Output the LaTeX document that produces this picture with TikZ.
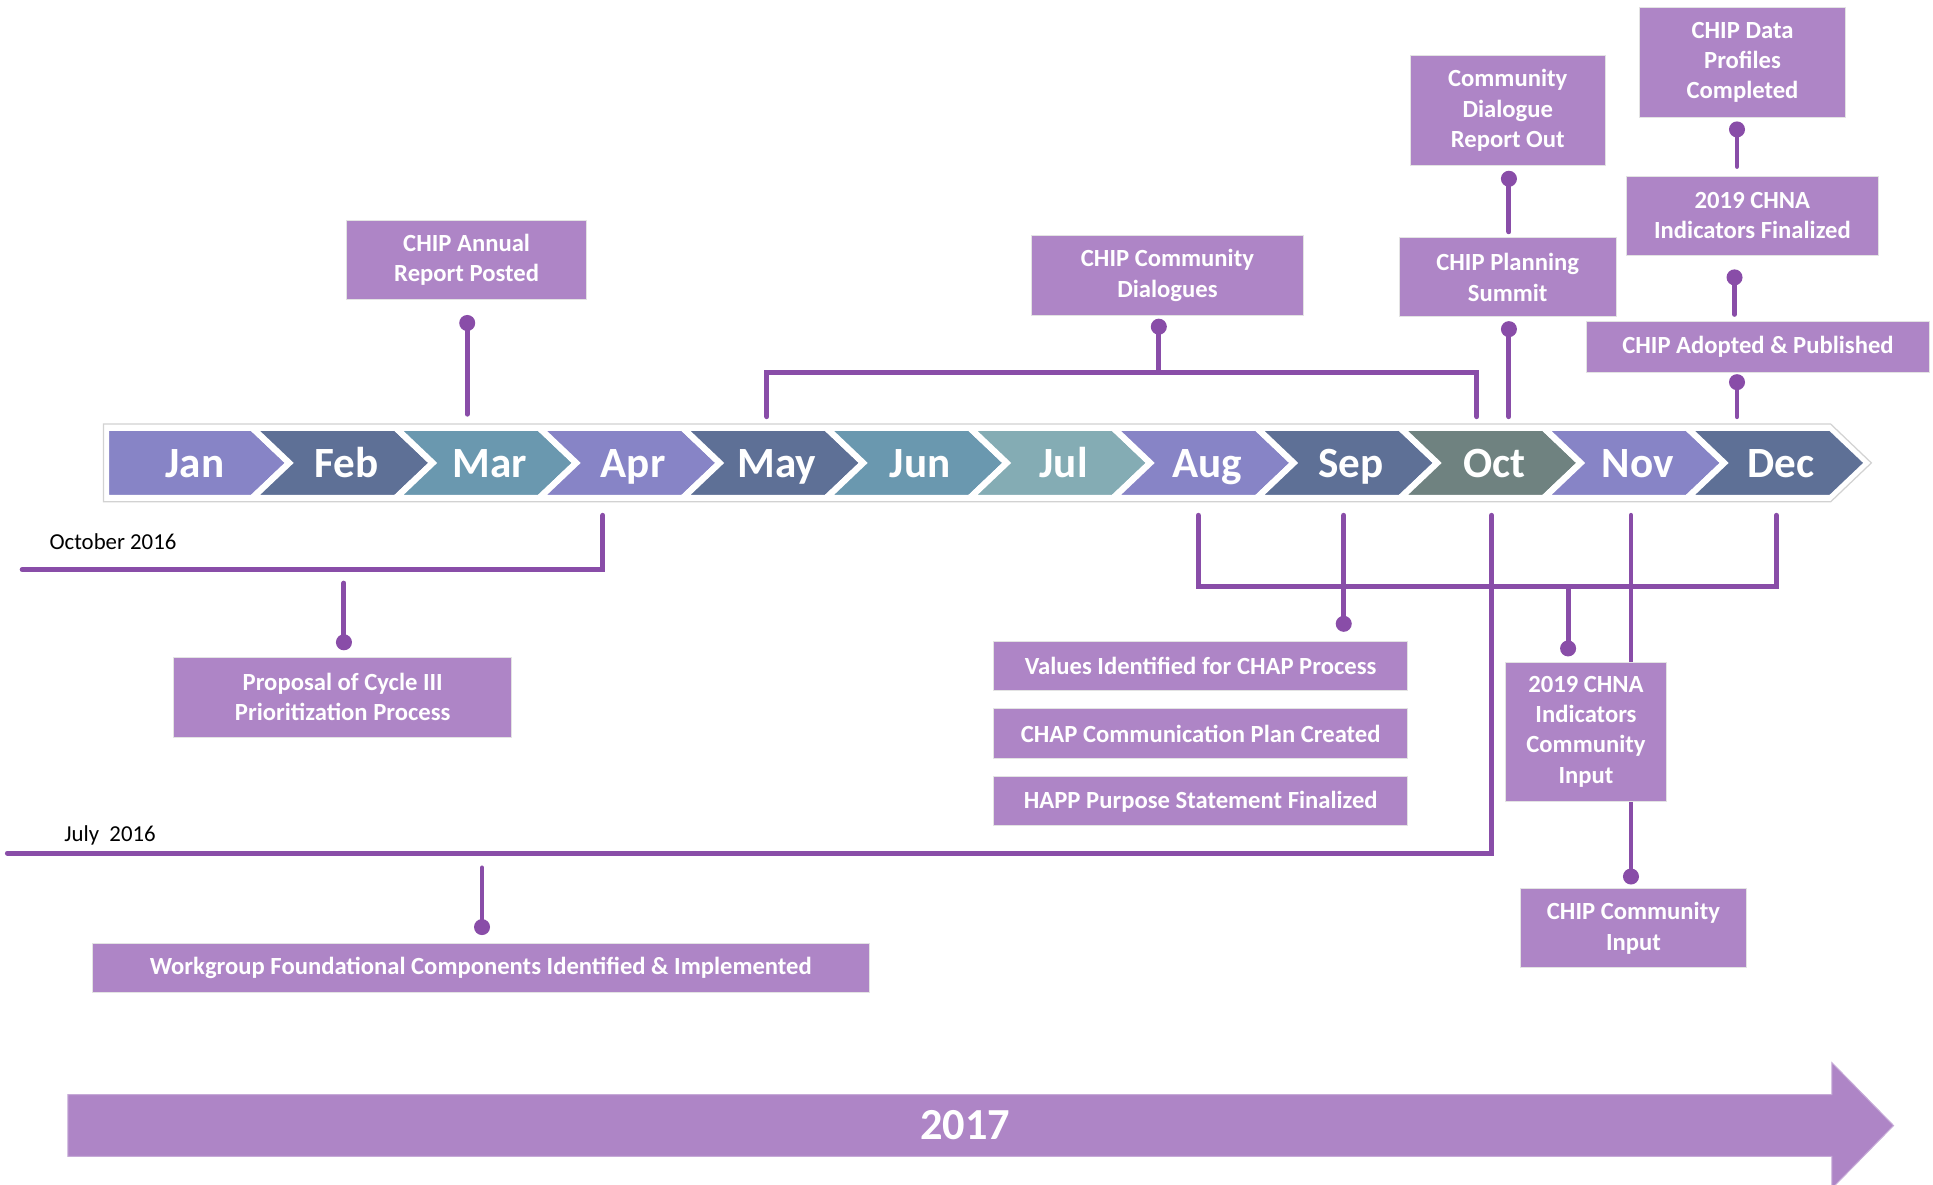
\documentclass[tikz,border=0pt]{standalone}
\usepackage{fontspec}
\setmainfont{Carlito}
\definecolor{boxc}{RGB}{174,133,198}
\definecolor{linec}{RGB}{137,77,168}
\definecolor{mA}{RGB}{135,132,198}
\definecolor{mB}{RGB}{94,112,150}
\definecolor{mC}{RGB}{106,152,175}
\definecolor{mD}{RGB}{132,172,180}
\definecolor{mE}{RGB}{111,130,128}
\begin{document}
\begin{tikzpicture}[x=1pt,y=-1pt,
  event/.style={fill=boxc, draw=white!78!gray, line width=0.8pt, text=white,
    font=\bfseries\fontsize{20}{24.5}\selectfont, align=center, inner sep=0pt},
  link/.style={draw=linec, line width=4pt, line cap=round},
  dot/.style={circle, fill=linec, inner sep=0pt, minimum size=13pt},
  month/.style={text=white, font=\bfseries\fontsize{35}{40}\selectfont, anchor=base, inner sep=0pt},
  datelbl/.style={font=\fontsize{18.5}{21}\selectfont, anchor=west, inner sep=0pt}]

\fill[white] (0,0) rectangle (1568,961);
\useasboundingbox (0,0) rectangle (1568,961);

% ---- month band ----
\fill[mA, draw=white, line width=5pt] (86,347) -- (204.6,347) -- (234.6,375.5) -- (204.6,404) -- (86,404) -- cycle;
\node[month] (mJan) at (158,387) {Jan};
\foreach \i/\m/\c in {1/Feb/mB, 2/Mar/mC, 3/Apr/mA, 4/May/mB, 5/Jun/mC, 6/Jul/mD,
                      7/Aug/mA, 8/Sep/mB, 9/Oct/mE, 10/Nov/mA, 11/Dec/mB}{
  \pgfmathsetmacro{\l}{204.6+(\i-1)*116.4}
  \pgfmathsetmacro{\r}{\l+116.4}
  \pgfmathsetmacro{\cx}{(\l+\r)/2+18}
  \fill[\c, draw=white, line width=5pt, line join=miter]
    (\l,347) -- (\r,347) -- (\r+30,375.5) -- (\r,404) -- (\l,404) -- (\l+30,375.5) -- cycle;
  \node[month] (m\m) at (\cx,387) {\m};
}
\draw[gray!35, line width=1pt] (84,344) -- (1485,344) -- (1518,375.5) -- (1485,407) -- (84,407) -- cycle;

% ---- end points on the band ----
\coordinate (bAnnual) at (379,336);
\coordinate (bMayL) at (622,338);
\coordinate (bMayR) at (1198,338);
\coordinate (bSummit) at (1224,338);
\coordinate (bAdopted) at (1409,338);
\coordinate (uApr) at (489,418);
\coordinate (uAug) at (972,418);
\coordinate (uSep) at (1090,418);
\coordinate (uOct) at (1210,418);
\coordinate (uNov) at (1323,418);
\coordinate (uDec) at (1441,418);
\coordinate (octEnd) at (18,462);
\coordinate (julEnd) at (6,692);

% ---- connectors ----
\node[dot] (dAnnual) at (379,262) {};
\draw[link] (dAnnual.center) -- (bAnnual);

\node[dot] (dDialog) at (940,265) {};
\coordinate (jDialog) at (940,302);
\draw[link] (dDialog.center) -- (jDialog);
\draw[link, line join=miter, line cap=round] (bMayL) -- (622,302) -- (1198,302) -- (bMayR);

\node[dot] (dReport) at (1224,145) {};
\coordinate (jReport) at (1224,188);
\draw[link] (dReport.center) -- (jReport);

\node[dot] (dSummit) at (1224,267) {};
\draw[link] (dSummit.center) -- (bSummit);

\node[dot] (dProfiles) at (1409,105) {};
\coordinate (jProfiles) at (1409,135);
\draw[link] (dProfiles.center) -- (jProfiles);

\node[dot] (dFinal) at (1407,225) {};
\coordinate (jFinal) at (1407,255);
\draw[link] (dFinal.center) -- (jFinal);

\node[dot] (dAdopted) at (1409,310) {};
\draw[link] (dAdopted.center) -- (bAdopted);

% below the band
\draw[link, line join=miter] (uApr) -- (489,462) -- (octEnd);
\node[datelbl] (oct16) at (40,439) {October 2016};
\node[dot] (dProposal) at (279,521) {};
\coordinate (jProposal) at (279,473);
\draw[link] (jProposal) -- (dProposal.center);

\draw[link, line join=miter] (uOct) -- (1210,692) -- (julEnd);
\node[datelbl] (jul16) at (52,678) {July\ \ 2016};
\node[dot] (dWork) at (391,752) {};
\coordinate (jWork) at (391,704);
\draw[link] (jWork) -- (dWork.center);

\draw[link, line join=miter] (uAug) -- (972,476) -- (1441,476) -- (uDec);
\node[dot] (dValues) at (1090,506) {};
\draw[link] (uSep) -- (dValues.center);
\node[dot] (dChna) at (1272,526) {};
\coordinate (jChna) at (1272,476);
\draw[link] (jChna) -- (dChna.center);
\node[dot] (dInput) at (1323,711) {};
\draw[link] (uNov) -- (dInput.center);

% ---- event boxes ----
\node[event, minimum width=195, minimum height=64] (annual) at (378.5,211) {CHIP Annual\\Report Posted};
\node[event, minimum width=220, minimum height=65] (dialog) at (947,223.5) {CHIP Community\\Dialogues};
\node[event, minimum width=158, minimum height=89] (report) at (1223,89.5) {Community\\Dialogue\\Report Out};
\node[event, minimum width=176, minimum height=64] (summit) at (1223,225) {CHIP Planning\\Summit};
\node[event, minimum width=167, minimum height=89] (profiles) at (1413.5,50.5) {CHIP Data\\Profiles\\Completed};
\node[event, minimum width=205, minimum height=64] (final) at (1421.5,175) {2019 CHNA\\Indicators Finalized};
\node[event, minimum width=278, minimum height=41] (adopted) at (1426,281.5) {CHIP Adopted \& Published};

\node[event, minimum width=274, minimum height=65] (proposal) at (278,565.5) {Proposal of Cycle III\\Prioritization Process};
\node[event, minimum width=630, minimum height=40] (work) at (390,785) {Workgroup Foundational Components Identified \& Implemented};
\node[event, minimum width=336, minimum height=40] (values) at (974,540) {Values Identified for CHAP Process};
\node[event, minimum width=336, minimum height=40] (comm) at (974,595) {CHAP Communication Plan Created};
\node[event, minimum width=336, minimum height=40] (happ) at (974,650) {HAPP Purpose Statement Finalized};
\node[event, minimum width=131, minimum height=113] (chna) at (1286.5,593.5) {2019 CHNA\\Indicators\\Community\\Input};
\node[event, minimum width=184, minimum height=64] (input) at (1325,753) {CHIP Community\\Input};

% ---- year arrow ----
\fill[boxc, draw=boxc!70!white, line width=0.8pt] (55,888) -- (1486,888) -- (1486,862) -- (1536,913) -- (1486,964) -- (1486,938) -- (55,938) -- cycle;
\node[text=white, font=\bfseries\fontsize{36}{40}\selectfont, inner sep=0pt] (year) at (783,913) {2017};
\end{tikzpicture}
\end{document}
